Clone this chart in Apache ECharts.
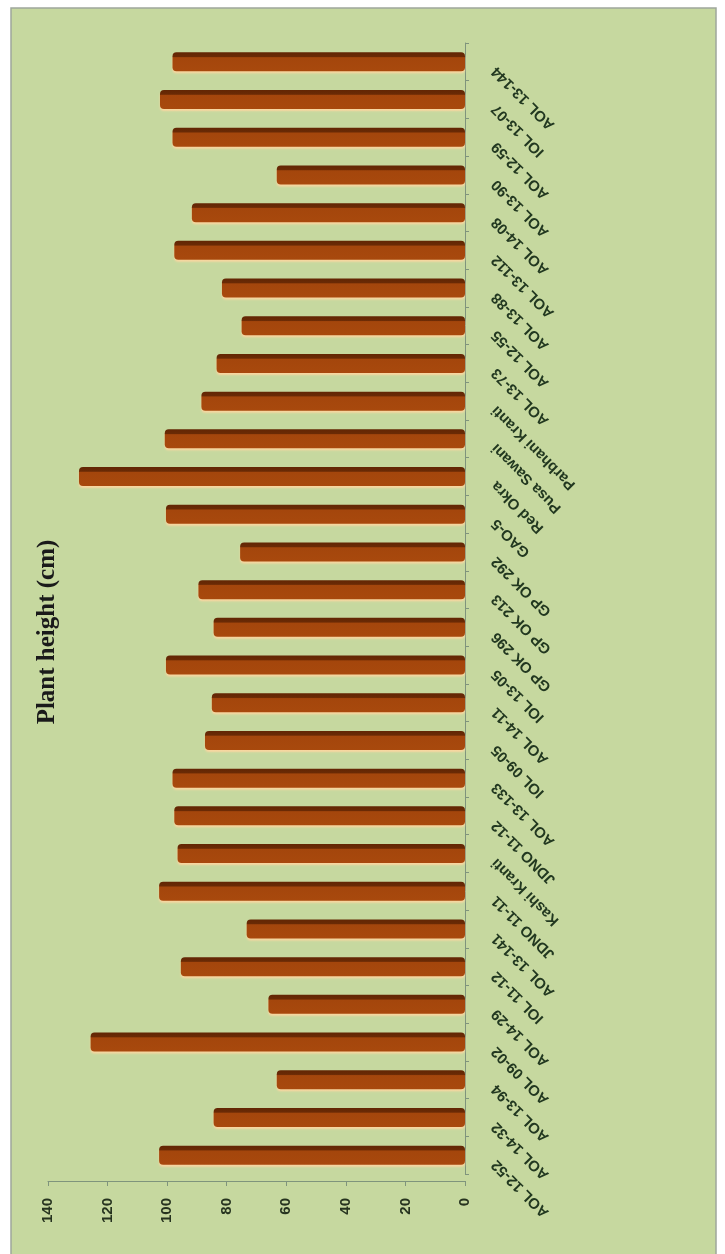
<!DOCTYPE html>
<html>
<head>
<meta charset="utf-8">
<script src="https://cdn.jsdelivr.net/npm/echarts@6/dist/echarts.min.js"></script>
<style>
html,body{margin:0;padding:0;background:#ffffff;}
#chart{width:725px;height:1254px;}
</style>
</head>
<body>
<div id="chart"></div>
<script>
// Categories (first = bottom of the chart)
var categories = ["AOL 12-52","AOL 14-32","AOL 13-94","AOL 09-02","AOL 14-29","IOL 11-12","AOL 13-141","JDNO 11-11","Kashi Kranti","JDNO 11-12","AOL 13-133","IOL 09-05","AOL 14-11","IOL 13-05","GP OK 296","GP OK 213","GP OK 292","GAO-5","Red Okra","Pusa Sawani","Parbhani Kranti","AOL 13-73","AOL 12-55","AOL 13-88","AOL 13-112","AOL 14-08","AOL 13-90","AOL 12-59","IOL 13-07","AOL 13-144"];
// Plant height (cm)
var plantHeight = [102.7,84.4,63.2,125.7,66.0,95.4,73.3,102.7,96.5,97.6,98.2,87.3,85.0,100.4,84.4,89.5,75.5,100.4,129.6,100.8,88.5,83.4,75.0,81.6,97.6,91.7,63.2,98.2,102.4,98.2];
var valueTicks = [0,20,40,60,80,100,120,140];
var titleText = "Plant height (cm)";

var chart = echarts.init(document.getElementById('chart'), null, {renderer:'canvas'});
var option = {
  backgroundColor: '#ffffff',
  animation: false,
  graphic: [
    {type:'rect', z:-10, shape:{x:11,y:8,width:705,height:1250}, style:{fill:'#c6d89f', stroke:'#9ea79c', lineWidth:1.5}},
    {type:'text', x:48, y:632, rotation:Math.PI/2,
     style:{text:titleText, font:'bold 25px "Liberation Serif", "DejaVu Serif", serif', fill:'#1a1a1a', textAlign:'center', textVerticalAlign:'middle', align:'center', verticalAlign:'middle'}}
  ],
  grid: {left:48, right:260, top:43, bottom:80, containLabel:false},
  xAxis: {
    type:'value', position:'bottom', inverse:true,
    min:valueTicks[0], max:valueTicks[valueTicks.length-1], interval:20,
    offset:7,
    axisLine:{show:true, lineStyle:{color:'#7f947c', width:1}},
    axisTick:{show:true, length:5, lineStyle:{color:'#7f947c'}},
    splitLine:{show:false},
    axisLabel:{rotate:90, margin:17, color:'#26331f', fontSize:15, fontWeight:'bold', fontFamily:'"Liberation Sans", Arial, sans-serif'}
  },
  yAxis: {
    type:'category', position:'right', data:categories,
    axisLine:{show:true, lineStyle:{color:'#7f947c', width:1}},
    axisTick:{show:true, length:4, lineStyle:{color:'#7f947c'}},
    axisLabel:{rotate:135, margin:22, padding:[0,10,0,0], color:'#223820', fontSize:15, fontWeight:'bold', fontFamily:'"Liberation Sans", Arial, sans-serif', interval:0}
  },
  series: [{
    type:'bar', data:plantHeight, barWidth:19,
    itemStyle:{
      color:{type:'linear', x:0, y:0, x2:0, y2:1, colorStops:[
        {offset:0, color:'#622604'},{offset:0.22, color:'#6a2a05'},{offset:0.28, color:'#a4460c'},{offset:1, color:'#a8490d'}]},
      borderRadius:4,
      shadowColor:'rgba(252,214,160,0.95)', shadowBlur:2, shadowOffsetY:2
    }
  }]
};
chart.setOption(option);
</script>
</body>
</html>
